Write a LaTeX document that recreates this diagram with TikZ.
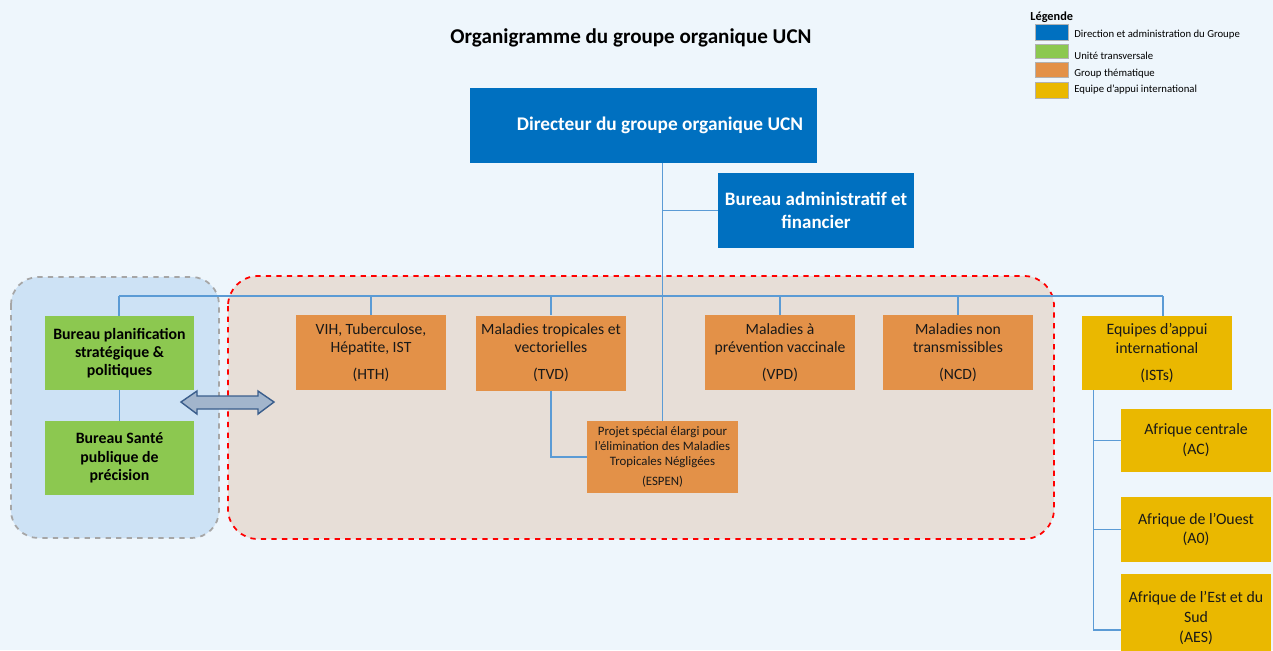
\documentclass[tikz,border=0pt]{standalone}
\usepackage{fontspec}
\setmainfont{Carlito}
\usetikzlibrary{calc}

\definecolor{pagebg}{HTML}{EEF6FC}
\definecolor{dirblue}{HTML}{0070C0}
\definecolor{transgreen}{HTML}{8CC850}
\definecolor{themorange}{HTML}{E39148}
\definecolor{istyellow}{HTML}{EAB800}
\definecolor{linkblue}{HTML}{5B9BD5}
\definecolor{leftpanel}{HTML}{CDE2F5}
\definecolor{midpanel}{HTML}{E7DED7}
\definecolor{arrowfill}{HTML}{A2B5CC}
\definecolor{arrowline}{HTML}{3B5E8C}

\begin{document}
\begin{tikzpicture}[x=0.02cm, y=-0.02cm,
    link/.style={draw=linkblue, line width=0.8pt},
    dirbox/.style={fill=dirblue, text=white, font=\fontsize{11}{13}\selectfont\bfseries, align=center, inner sep=0pt},
    greenbox/.style={fill=transgreen, text=black, font=\fontsize{9}{10.4}\selectfont\bfseries, align=center,
        minimum width=2.98cm, minimum height=1.48cm, inner sep=0pt},
    thembox/.style={fill=themorange, text=black!90, font=\fontsize{8.9}{10.3}\selectfont, align=center,
        minimum width=3cm, minimum height=1.5cm, inner sep=0pt},
    istbox/.style={fill=istyellow, text=black!90, font=\fontsize{9}{11.3}\selectfont, align=center,
        minimum width=3cm, inner sep=0pt},
    swatch/.style={draw=gray!60, line width=0.4pt},
    legtext/.style={anchor=west, font=\fontsize{6.1}{7}\selectfont, inner sep=0pt}]

    % Background
    \fill[pagebg] (0,0) rectangle (1273,650);
    \useasboundingbox (0,0) rectangle (1273,650);

    % Title
    \node[font=\fontsize{12}{14}\selectfont\bfseries] (title) at (631,38) {Organigramme du groupe organique UCN};

    % Legend
    \node[anchor=west, font=\fontsize{7}{8}\selectfont\bfseries, inner sep=0pt] (legtitle) at (1030,17) {Légende};
    \draw[swatch, fill=dirblue] (1035,24) rectangle (1068,40);
    \draw[swatch, fill=transgreen] (1035,44) rectangle (1068,58);
    \draw[swatch, fill=themorange] (1035,62) rectangle (1068,77);
    \draw[swatch, fill=istyellow] (1035,82) rectangle (1068,98);
    \node[legtext] (leg1) at (1074,35) {Direction et administration du Groupe};
    \node[legtext] (leg2) at (1074,56) {Unité transversale};
    \node[legtext] (leg3) at (1074,74) {Group thématique};
    \node[legtext] (leg4) at (1074,90) {Equipe d’appui international};

    % Draw the two panels
    \draw[draw=gray!70, fill=leftpanel, dashed, line width=1pt, rounded corners=0.55cm] (11,277) rectangle (219,538);
    \draw[draw=red, fill=midpanel, dashed, line width=1pt, rounded corners=0.6cm] (228,276) rectangle (1054,539);

    % Boxes
    \node[dirbox, minimum width=6.94cm, minimum height=1.5cm] (dir) at (643.5,125.5) {\hspace*{0.66cm}Directeur du groupe organique UCN};
    \node[dirbox, minimum width=3.92cm, minimum height=1.5cm, font=\fontsize{10.8}{12.8}\selectfont\bfseries] (admin) at (816,210.5) {Bureau administratif et\\financier};

    \node[greenbox] (plan) at (119.5,353) {Bureau planification\\stratégique \&\\politiques};
    \node[greenbox] (sante) at (119.5,458) {Bureau Santé\\publique de\\précision};

    \node[thembox] (hth) at (371,352.5) {VIH, Tuberculose,\\Hépatite, IST\\[5pt](HTH)};
    \node[thembox] (tvd) at (551,353) {Maladies tropicales et\\vectorielles\\[5pt](TVD)};
    \node[thembox] (vpd) at (780,352.5) {Maladies à\\prévention vaccinale\\[5pt](VPD)};
    \node[thembox] (ncd) at (958,352.5) {Maladies non\\transmissibles\\[5pt](NCD)};
    \node[thembox, minimum width=3.02cm, minimum height=1.44cm, font=\fontsize{7.3}{8.6}\selectfont] (espen) at (662.5,457)
        {Projet spécial élargi pour\\l’élimination des Maladies\\Tropicales Négligées\\[3pt](ESPEN)};

    \node[istbox, minimum height=1.48cm, font=\fontsize{9}{10.4}\selectfont] (ists) at (1157,353) {Equipes d’appui\\international\\[5pt](ISTs)};
    \node[istbox, minimum height=1.26cm] (ac) at (1196,440.5) {Afrique centrale\\(AC)};
    \node[istbox, minimum height=1.3cm] (ao) at (1196,529.5) {Afrique de l’Ouest\\(A0)};
    \node[istbox, minimum height=1.76cm] (aes) at (1196,618) {Afrique de l’Est et du\\Sud\\(AES)};

    % Connectors
    \coordinate (busW) at (119,296);
    \coordinate (busE) at (1163,296);
    \draw[link] (busW) -- (busE);
    \draw[link] (busW) -- (busW |- plan.north);
    \draw[link] (busW -| hth.north) -- (hth.north);
    \draw[link] (busW -| tvd.north) -- (tvd.north);
    \draw[link] (busW -| vpd.north) -- (vpd.north);
    \draw[link] (busW -| ncd.north) -- (ncd.north);
    \draw[link] (busE) -- (busE |- ists.north);
    \draw[link] (plan) -- (sante);
    \draw[link] (dir.south -| espen.north) -- (espen.north);
    \draw[link] (admin.west) -- (admin.west -| espen.north);
    \draw[link] (tvd.south) |- (espen.west);
    \coordinate (istTop) at ([xshift=0.24cm]ists.south west);
    \draw[link] (istTop) |- (ac.west);
    \draw[link] (istTop) |- (ao.west);
    \draw[link] (istTop) |- ([yshift=-0.24cm]aes.west);

    % Double arrow between the panels
    \draw[draw=arrowline, fill=arrowfill, line width=0.8pt, line join=miter]
        (181,402) -- (197,391) -- (197,396) -- (258,396) -- (258,391) -- (274,402)
        -- (258,414) -- (258,409) -- (197,409) -- (197,414) -- cycle;
\end{tikzpicture}
\end{document}
